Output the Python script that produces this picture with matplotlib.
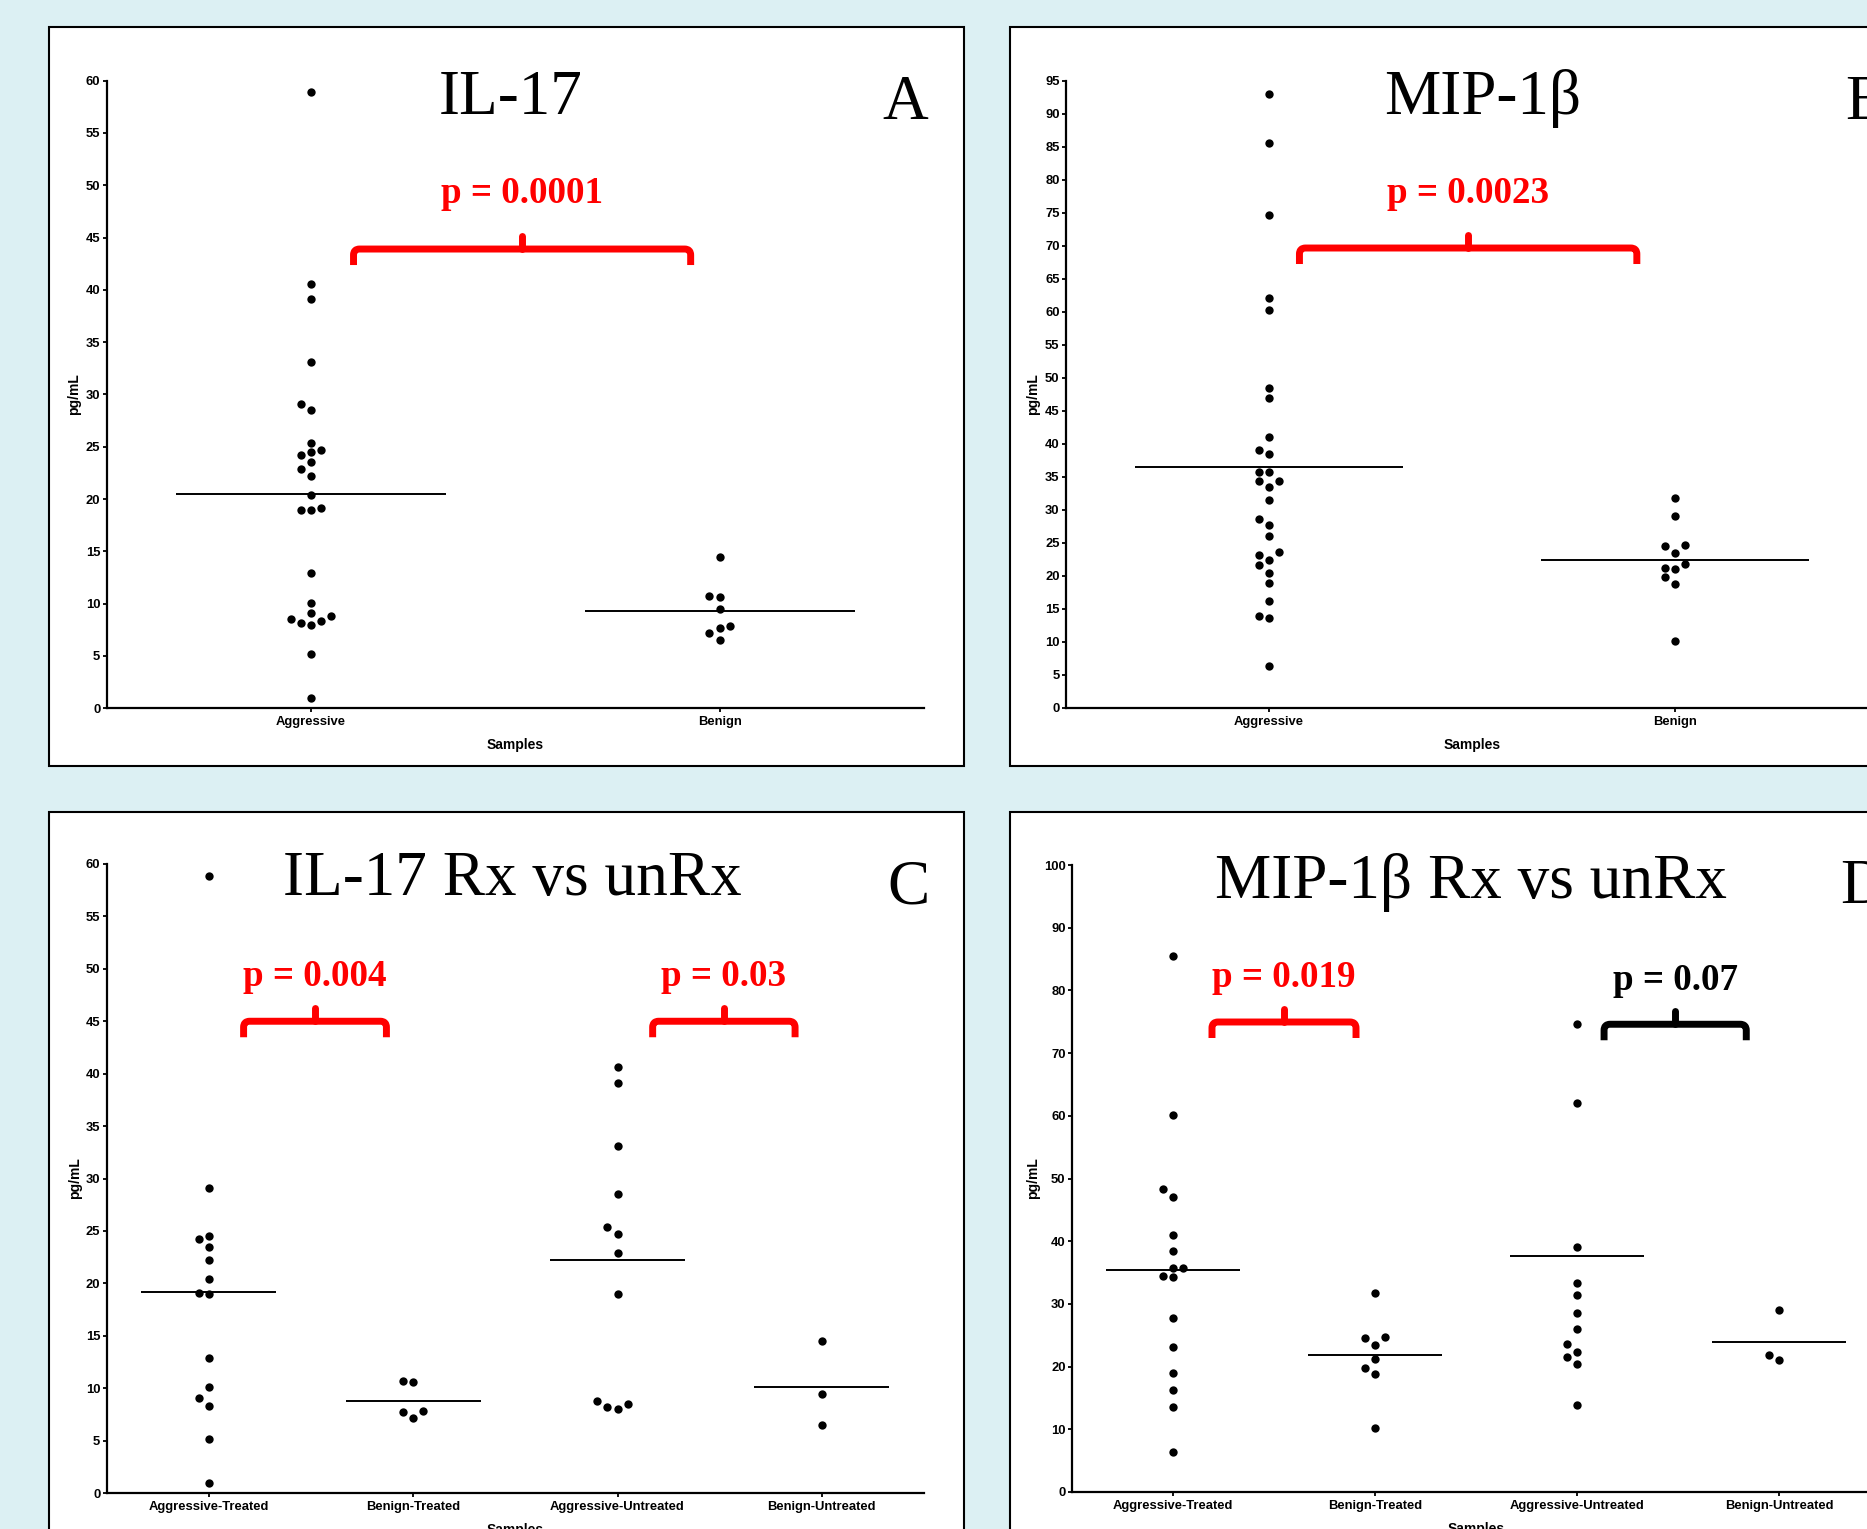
import numpy as np
import matplotlib.pyplot as plt
from matplotlib.patches import Rectangle, PathPatch
from matplotlib.path import Path

W, H = 1867, 1529
DPI = 100
BG = '#dcf0f3'

# IL-17 (pg/mL), split by treatment as in panel C
il17_aggr_treated = [58.9, 29.1, 24.5, 24.2, 23.5, 22.2, 20.4, 19.1, 18.95, 12.9, 10.1, 9.1, 8.3, 5.15, 0.98]
il17_benign_treated = [10.7, 10.6, 7.86, 7.68, 7.15]
il17_aggr_untreated = [40.6, 39.1, 33.1, 28.5, 25.4, 24.7, 22.9, 18.95, 8.5, 8.0, 8.2, 8.8]
il17_benign_untreated = [14.5, 9.45, 6.52]

# MIP-1b (pg/mL), split by treatment as in panel D
mip_aggr_treated = [85.5, 60.2, 48.4, 47.0, 41.0, 38.5, 35.8, 35.8, 34.3, 34.4, 27.7, 23.1, 18.9, 16.2, 13.6, 6.3]
mip_benign_treated = [31.75, 24.55, 24.7, 23.4, 21.2, 19.8, 18.8, 10.2]
mip_aggr_untreated = [92.9, 74.6, 62.1, 39.1, 33.4, 31.45, 28.6, 26.0, 23.6, 22.4, 21.6, 20.4, 13.9]
mip_benign_untreated = [29.1, 21.1, 21.8]

cats_2 = ['Aggressive', 'Benign']
cats_4 = ['Aggressive-Treated', 'Benign-Treated', 'Aggressive-Untreated', 'Benign-Untreated']

il17_2 = [il17_aggr_treated + il17_aggr_untreated, il17_benign_treated + il17_benign_untreated]
il17_4 = [il17_aggr_treated, il17_benign_treated, il17_aggr_untreated, il17_benign_untreated]
mip_2 = [mip_aggr_treated + mip_aggr_untreated, mip_benign_treated + mip_benign_untreated]
mip_4 = [mip_aggr_treated, mip_benign_treated, mip_aggr_untreated, mip_benign_untreated]

# (left, right, bar level, text level, label, colour)
br_a = [(0.104, 0.929, 43.9, 48.3, 'p = 0.0001', 'red')]
br_b = [(0.075, 0.906, 69.65, 76.5, 'p = 0.0023', 'red')]
br_c = [(0.17, 0.869, 45.0, 48.4, 'p = 0.004', 'red'),
        (2.172, 2.869, 45.0, 48.4, 'p = 0.03', 'red')]
br_d = [(0.193, 0.906, 74.96, 80.5, 'p = 0.019', 'red'),
        (2.134, 2.838, 74.6, 80.1, 'p = 0.07', 'black')]

panels = [
    dict(box=(49, 27), axpx=(106.7, 80.6, 924, 708.3), cats=cats_2, groups=il17_2, ymax=60, ystep=5,
         title='IL-17', txy=(510.6, 114.5), letter='A', lxy=(882, 119), yoff=26, br=br_a),
    dict(box=(1010, 27), axpx=(1066, 80.6, 1878, 708.0), cats=cats_2, groups=mip_2, ymax=95, ystep=5,
         title='MIP-1β', txy=(1483, 114.5), letter='B', lxy=(1845, 119), yoff=26, br=br_b),
    dict(box=(49, 812), axpx=(106.7, 864, 924, 1493), cats=cats_4, groups=il17_4, ymax=60, ystep=5,
         title='IL-17 Rx vs unRx', txy=(512.7, 895.3), letter='C', lxy=(887, 903), yoff=25, br=br_c),
    dict(box=(1010, 812), axpx=(1072, 865, 1880, 1492), cats=cats_4, groups=mip_4, ymax=100, ystep=10,
         title='MIP-1β Rx vs unRx', txy=(1471, 898.5), letter='D', lxy=(1840.5, 903), yoff=32, br=br_d),
]

SERIF = 'Liberation Serif'
SANS = 'Liberation Sans'
DOT_PX = 9.0
STEP_PX = 10.2


def fx(px):
    return px / W


def fy(py):
    return 1 - py / H


def swarm(vals, ppu):
    # greedy column offsets so dots don't overlap (low values first)
    order = np.argsort(np.asarray(vals), kind='stable')
    cols = np.zeros(len(vals))
    placed = []
    for i in order:
        y = vals[i] * ppu
        for c in [0, -1, 1, -2, 2, -3, 3]:
            if all(abs(y - py) >= DOT_PX for py, pc in placed if pc == c):
                break
        placed.append((y, c))
        cols[i] = c
    return cols


fig = plt.figure(figsize=(W / DPI, H / DPI), dpi=DPI, facecolor=BG)

for p in panels:
    bx, by = p['box']
    fig.add_artist(Rectangle((fx(bx), fy(by + 739)), 915 / W, 739 / H, transform=fig.transFigure,
                             facecolor='white', edgecolor='black', lw=1.5, zorder=-5))

    l, t, r, b = p['axpx']
    ax = fig.add_axes([fx(l), fy(b), (r - l) / W, (b - t) / H])
    ax.set_facecolor('none')
    n = len(p['cats'])
    ax.set_xlim(-0.5, n - 0.5)
    ax.set_ylim(0, p['ymax'])
    ppu_y = (b - t) / p['ymax']
    ppu_x = (r - l) / n

    for i, vals in enumerate(p['groups']):
        offs = swarm(vals, ppu_y)
        ax.scatter(i + offs * STEP_PX / ppu_x, vals, s=6.0 ** 2, color='black', lw=0, zorder=3, clip_on=False)
        ax.hlines(np.mean(vals), i - 0.33, i + 0.33, color='black', lw=1.4, zorder=2)

    for spine in ['top', 'right']:
        ax.spines[spine].set_visible(False)
    for spine in ['left', 'bottom']:
        ax.spines[spine].set_linewidth(1.6)
    ax.set_xticks(range(n))
    ax.set_xticklabels(p['cats'])
    ax.set_yticks(np.arange(0, p['ymax'] + 1, p['ystep']))
    ax.tick_params(axis='both', direction='out', length=2.8, width=1.3, labelsize=9.4)
    ax.tick_params(axis='x', pad=3)
    ax.tick_params(axis='y', pad=1.8)
    for lbl in ax.get_xticklabels() + ax.get_yticklabels():
        lbl.set_fontweight('bold')
        lbl.set_fontfamily(SANS)

    ax.set_ylabel('pg/mL', fontsize=10, fontweight='bold', family=SANS)
    ax.yaxis.set_label_coords(-p['yoff'] / (r - l), 0.5)
    ax.set_xlabel('Samples', fontsize=10, fontweight='bold', family=SANS)
    ax.xaxis.set_label_coords(0.5, -30 / (b - t))

    # significance brackets with rounded shoulders
    drop = 16 / ppu_y
    rise = 13 / ppu_y
    ry = 6 / ppu_y
    rx = 6 / ppu_x
    for x0, x1, yb, yt, label, col in p['br']:
        xc = (x0 + x1) / 2
        verts = [(x0, yb - drop), (x0, yb - ry), (x0, yb), (x0 + rx, yb),
                 (x1 - rx, yb), (x1, yb), (x1, yb - ry), (x1, yb - drop)]
        codes = [Path.MOVETO, Path.LINETO, Path.CURVE3, Path.CURVE3,
                 Path.LINETO, Path.CURVE3, Path.CURVE3, Path.LINETO]
        ax.add_patch(PathPatch(Path(verts, codes), fill=False, edgecolor=col, lw=5,
                               capstyle='butt', joinstyle='round', clip_on=False, zorder=4))
        ax.plot([xc, xc], [yb, yb + rise], color=col, lw=5, solid_capstyle='round', clip_on=False, zorder=4)
        ax.text(xc, yt, label, ha='center', va='baseline', color=col, fontsize=26.7,
                fontweight='bold', family=SERIF, zorder=5)

    tx, ty = p['txy']
    fig.text(fx(tx), fy(ty), p['title'], ha='center', va='baseline', fontsize=45.5, family=SERIF,
             bbox=dict(facecolor='white', edgecolor='none', boxstyle='square,pad=0.1'))
    lx, ly = p['lxy']
    fig.text(fx(lx), fy(ly), p['letter'], ha='left', va='baseline', fontsize=45.5, family=SERIF)

fig.savefig('out.png', dpi=DPI, facecolor=BG)
